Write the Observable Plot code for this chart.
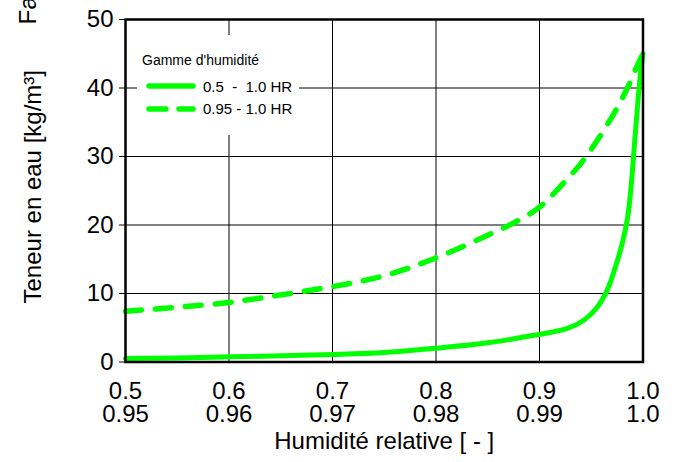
<!DOCTYPE html>
<html>
<head>
<meta charset="utf-8">
<script src="https://cdn.jsdelivr.net/npm/d3@7"></script>
<script src="https://cdn.jsdelivr.net/npm/@observablehq/plot@0.6"></script>
<style>
  html, body { margin: 0; padding: 0; background: #fff; }
  #wrap { position: relative; width: 681px; height: 462px; }
  #legend { position: absolute; left: 137px; top: 35px; }
  #legend text { font-family: "Liberation Sans", Arial, sans-serif; white-space: pre; }
</style>
</head>
<body>
<div id="wrap"></div>
<script>
// Primary x-axis (0.5 - 1.0 RH) and secondary x-axis (0.95 - 1.0 RH) tick labels
const xTicks = [0.5, 0.6, 0.7, 0.8, 0.9, 1.0];
const xLabelsPrimary = ["0.5", "0.6", "0.7", "0.8", "0.9", "1.0"];
const xLabelsSecondary = ["0.95", "0.96", "0.97", "0.98", "0.99", "1.0"];
const yTicks = [0, 10, 20, 30, 40, 50];

// Series 1: humidity range 0.5 - 1.0 RH (solid)
const rhWide = [0.5, 0.55, 0.6, 0.65, 0.7, 0.75, 0.8, 0.85, 0.8945, 0.9268, 0.9428, 0.9557, 0.9654, 0.9734, 0.9799, 0.9847, 0.9879, 0.9911, 0.9944, 0.9976, 1.0];
const wWide  = [0.5, 0.6, 0.75, 0.9, 1.1, 1.4, 2.0, 2.8, 3.9, 4.9, 6.1, 8.0, 10.5, 13.9, 17.3, 20.7, 24.6, 30.5, 36.8, 42.2, 45.0];

// Series 2: humidity range 0.95 - 1.0 RH (dashed), values on the secondary axis
const rhNarrow = [0.95, 0.955, 0.96, 0.965, 0.97, 0.975, 0.98, 0.985, 0.9875, 0.99, 0.992, 0.994, 0.9956, 0.9972, 0.9984, 0.9994, 1.0];
const wNarrow  = [7.4, 8.0, 8.7, 9.8, 11.0, 12.6, 15.2, 18.5, 20.3, 22.6, 25.6, 29.0, 32.4, 36.3, 39.7, 43.1, 45.0];

const seriesNames = ["0.5  -  1.0 HR", "0.95 - 1.0 HR"];
const legendTitle = "Gamme d'humidité";
const xTitle = "Humidité relative [ - ]";
const yTitle = "Teneur en eau [kg/m³]";
const cornerTitle = "Fa";

const green = "#00ff00";

const wide = rhWide.map((x, i) => ({x, y: wWide[i]}));
// map the secondary axis (0.95..1.0) onto the primary axis (0.5..1.0)
const narrow = rhNarrow.map((r, i) => ({x: 0.5 + (r - 0.95) * 10, y: wNarrow[i]}));

const font = "'Liberation Sans', Arial, Helvetica, sans-serif";

const chart = Plot.plot({
  width: 681,
  height: 462,
  marginLeft: 125,
  marginRight: 38.5,
  marginTop: 19,
  marginBottom: 100.5,
  style: {fontFamily: font, fontSize: "24px", background: "#fff", color: "#000"},
  x: {domain: [0.5, 1.0]},
  y: {domain: [0, 50]},
  marks: [
    Plot.gridX(xTicks, {stroke: "#000", strokeOpacity: 1, strokeWidth: 1}),
    Plot.gridY(yTicks, {stroke: "#000", strokeOpacity: 1, strokeWidth: 1}),
    Plot.axisX(xTicks, {
      tickSize: 0, tickPadding: 20, fontSize: 24, lineHeight: 0.97, label: null,
      tickFormat: (d) => { const i = xTicks.indexOf(d); return xLabelsPrimary[i] + "\n" + xLabelsSecondary[i]; }
    }),
    Plot.axisY(yTicks, {tickSize: 6, tickPadding: 6, fontSize: 24, label: null, stroke: "#000"}),
    Plot.line(wide, {x: "x", y: "y", stroke: green, strokeWidth: 5, curve: "catmull-rom", strokeLinecap: "round"}),
    Plot.line(narrow, {x: "x", y: "y", stroke: green, strokeWidth: 5.5, curve: "catmull-rom", strokeLinecap: "round", strokeDasharray: "16,14"}),
    Plot.frame({stroke: "#000", strokeWidth: 2.5}),
    Plot.text([xTitle], {text: d => d, frameAnchor: "bottom", dy: 87, fontSize: 24}),
    Plot.text([yTitle], {text: d => d, frameAnchor: "left", textAnchor: "middle", dx: -92, dy: -4, rotate: -90, fontSize: 24}),
    Plot.text([cornerTitle], {text: d => d, frameAnchor: "top-left", dx: -107, dy: 5, rotate: -90, textAnchor: "start", fontSize: 24})
  ]
});

const wrap = document.getElementById("wrap");
wrap.appendChild(chart);

// Legend box (drawn above the grid with a white background)
const ns = "http://www.w3.org/2000/svg";
const lg = document.createElementNS(ns, "svg");
lg.setAttribute("id", "legend");
lg.setAttribute("width", 162);
lg.setAttribute("height", 100);
const bg = document.createElementNS(ns, "rect");
bg.setAttribute("width", 162); bg.setAttribute("height", 100); bg.setAttribute("fill", "#fff");
lg.appendChild(bg);
function addText(str, x, y, size) {
  const t = document.createElementNS(ns, "text");
  t.setAttribute("x", x); t.setAttribute("y", y);
  t.setAttribute("font-size", size);
  t.setAttribute("xml:space", "preserve");
  t.textContent = str;
  lg.appendChild(t);
}
function addLine(y, dash) {
  const l = document.createElementNS(ns, "line");
  l.setAttribute("x1", 12); l.setAttribute("x2", 56);
  l.setAttribute("y1", y); l.setAttribute("y2", y);
  l.setAttribute("stroke", green); l.setAttribute("stroke-width", 5.5);
  l.setAttribute("stroke-linecap", "round");
  if (dash) l.setAttribute("stroke-dasharray", dash);
  lg.appendChild(l);
}
addText(legendTitle, 5, 30, 14);
addLine(51, null);
addText(seriesNames[0], 66, 56.5, 15);
addLine(74, "17,13");
addText(seriesNames[1], 66, 79, 15);
wrap.appendChild(lg);
</script>
</body>
</html>
